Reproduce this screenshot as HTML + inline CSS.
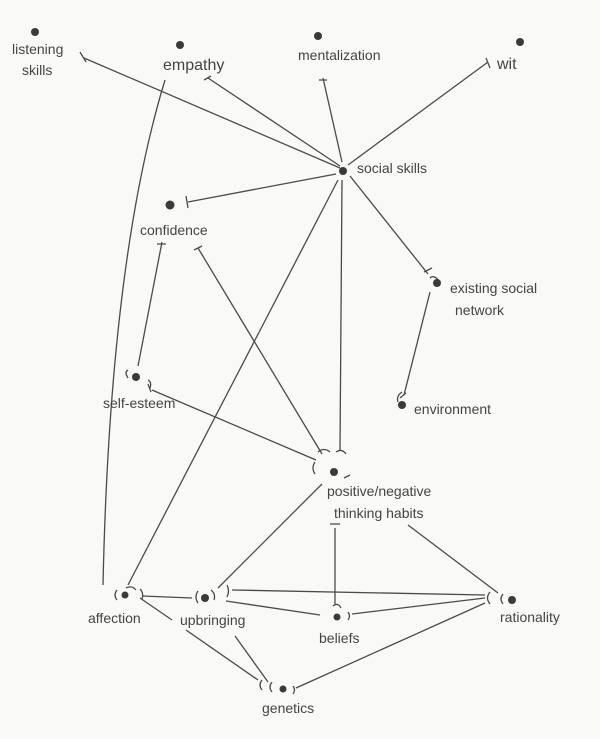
<!DOCTYPE html>
<html><head><meta charset="utf-8"><style>
body{margin:0;background:#f9f9f7;}
svg{display:block}
text{font-family:"Liberation Sans",sans-serif;font-size:14px;fill:#444;}
line,path{stroke:#4a4a4a;stroke-width:1.3;fill:none}
circle{fill:#3a3a3a}
</style></head><body>
<svg width="600" height="739" viewBox="0 0 600 739">
<!-- edges from social skills -->
<line x1="340" y1="168" x2="84" y2="58"/>
<line x1="340" y1="166" x2="208" y2="78"/>
<line x1="342" y1="162" x2="323" y2="78"/>
<line x1="348" y1="165" x2="488" y2="62"/>
<line x1="336" y1="174" x2="188" y2="202"/>
<line x1="350" y1="176" x2="428" y2="274"/>
<line x1="342" y1="180" x2="340" y2="450"/>
<line x1="338" y1="180" x2="128" y2="585"/>
<!-- others -->
<line x1="404" y1="395" x2="430" y2="292"/>
<line x1="162" y1="242" x2="138" y2="366"/>
<line x1="198" y1="248" x2="322" y2="454"/>
<line x1="152" y1="390" x2="316" y2="460"/>
<path d="M165 80 Q110 260 103 585"/>
<line x1="322" y1="484" x2="218" y2="588"/>
<line x1="408" y1="525" x2="498" y2="593"/>
<line x1="335" y1="528" x2="335" y2="605"/>
<line x1="232" y1="590" x2="485" y2="595"/>
<line x1="352" y1="614" x2="485" y2="598"/>
<line x1="296" y1="688" x2="485" y2="603"/>
<line x1="142" y1="596" x2="192" y2="598"/>
<line x1="226" y1="601" x2="320" y2="615"/>
<line x1="140" y1="598" x2="172" y2="620"/>
<line x1="186" y1="630" x2="258" y2="680"/>
<line x1="235" y1="636" x2="268" y2="682"/>
<!-- end ticks -->
<path d="M80 52 l6 10 M204 80 l7 -4 M319 80 l8 0 M486 58 l4 10 M186 196 l2 12 M424 272 l8 -4 M400 398 l6 -5 M157 244 l9 0 M194 250 l8 -4 M148 384 l3 8 M330 524 l10 0"/>
<path d="M117 590 q-4 5 0 10 M126 588 q6 -3 10 2 M198 591 q-4 6 0 12 M211 590 q5 4 3 10 M227 585 q3 6 0 12 M140 589 q4 4 2 10 M333 606 q5 -4 8 2 M348 612 q3 4 0 8 M490 592 q-5 6 0 12 M503 594 q-4 5 0 10 M262 680 q-4 5 0 10 M272 682 q-4 5 0 10 M293 686 q3 4 0 8 M315 462 q-4 6 0 12 M318 452 q6 -5 12 0 M336 452 q6 -4 10 2 M344 478 l6 -3 M128 378 q-4 -6 0 -8 M148 380 q4 2 2 8 M398 402 q-2 -6 4 -10 M430 278 q4 -4 10 4"/>
<!-- dots -->
<circle cx="35" cy="32" r="4"/><circle cx="180" cy="45" r="4"/>
<circle cx="318" cy="36" r="4"/><circle cx="520" cy="42" r="4"/>
<circle cx="343" cy="171" r="4"/><circle cx="170" cy="205" r="4.5"/>
<circle cx="437" cy="283" r="4"/><circle cx="136" cy="377" r="4"/>
<circle cx="402" cy="405" r="4"/><circle cx="334" cy="472" r="4"/>
<circle cx="125" cy="595" r="3.5"/><circle cx="205" cy="598" r="4"/>
<circle cx="337" cy="617" r="3.5"/><circle cx="512" cy="600" r="4"/>
<circle cx="283" cy="689" r="3.5"/>
<!-- labels -->
<text x="12" y="54">listening</text><text x="22" y="75">skills</text>
<text x="163" y="70" style="font-size:16px">empathy</text>
<text x="298" y="60">mentalization</text>
<text x="497" y="69" style="font-size:16px">wit</text>
<text x="357" y="173">social skills</text>
<text x="140" y="235">confidence</text>
<text x="450" y="293">existing social</text><text x="455" y="315">network</text>
<text x="103" y="408">self-esteem</text>
<text x="414" y="414">environment</text>
<text x="327" y="496">positive/negative</text><text x="334" y="518">thinking habits</text>
<text x="88" y="623">affection</text>
<text x="180" y="625">upbringing</text>
<text x="319" y="643">beliefs</text>
<text x="500" y="622">rationality</text>
<text x="262" y="713">genetics</text>
</svg>
</body></html>
